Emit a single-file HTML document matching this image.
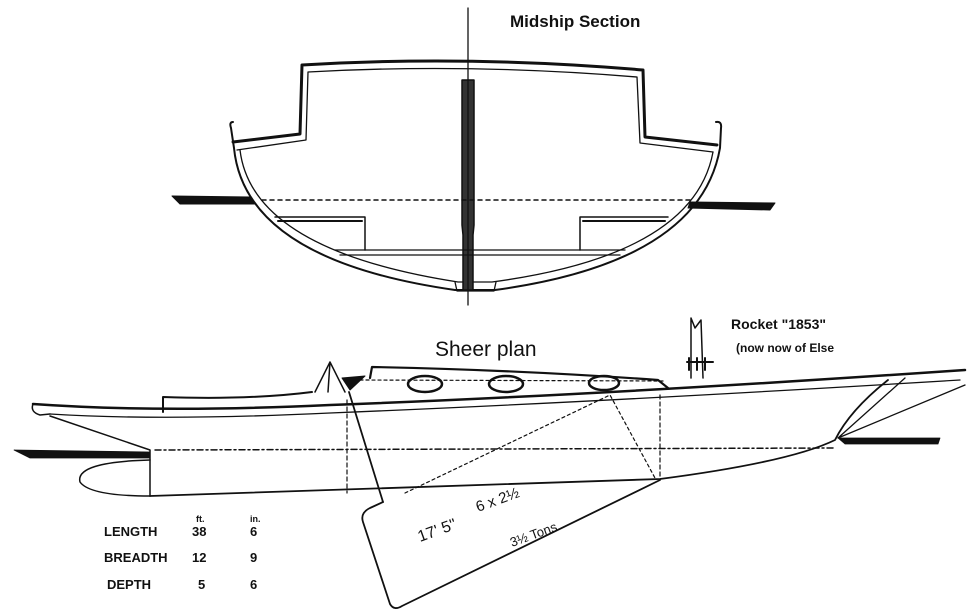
<!DOCTYPE html>
<html><head><meta charset="utf-8"><style>
html,body{margin:0;padding:0;background:#fff;}
svg{display:block;}
text{font-family:"Liberation Sans",sans-serif;fill:#111;}
</style></head><body>
<svg width="972" height="616" viewBox="0 0 972 616" xmlns="http://www.w3.org/2000/svg">
<g fill="none" stroke="#111" stroke-linecap="round" stroke-linejoin="round">
<!-- MIDSHIP SECTION -->
<!-- water bands -->
<path d="M172 196 L250 197 L255 204 L180 204 Z" fill="#111" stroke-width="1"/>
<path d="M690 202 L775 203 L770 210 L688 208 Z" fill="#111" stroke-width="1"/>
<!-- cabin outer -->
<path d="M233 142 L300 134 L302 65 Q468 55 643 70 L645 137 L717 145" stroke-width="3"/>
<!-- cabin inner -->
<path d="M237 150 L306 140 L308 72 Q468 63 637 77 L640 143 L713 152" stroke-width="1.3"/>
<!-- hull outer -->
<path d="M233 122 Q229 122 231 128 L234 148 Q245 260 455 290 L495 290 Q700 262 720 148 L721 128 Q722 121 716 122" stroke-width="2"/>
<!-- hull inner -->
<path d="M240 150 Q252 250 458 282 L492 282 Q694 255 713 152" stroke-width="1.3"/>
<!-- keel bulge -->
<path d="M455 282 L457 291 L494 291 L496 282" stroke-width="1.3"/>
<!-- keel post -->
<path d="M462 80 L474 80 L474 225 L473 235 L473 290 L463 290 L463 235 L462 225 Z" fill="#333" stroke-width="1.5"/>
<line x1="468" y1="8" x2="468" y2="305" stroke-width="1.3"/>
<!-- waterline dashed -->
<line x1="262" y1="200" x2="690" y2="200" stroke-width="1.5" stroke-dasharray="4 4"/>
<!-- floor blocks -->
<path d="M275 217 L365 217 L365 250" stroke-width="1.5"/>
<path d="M278 221 L362 221" stroke-width="2"/>
<path d="M580 250 L580 217 L668 217" stroke-width="1.5"/>
<path d="M583 221 L665 221" stroke-width="2"/>
<path d="M335 250 L625 250 M340 255 L620 255" stroke-width="1.3"/>
<text x="510" y="27" font-size="17" font-weight="bold" font-family="Liberation Serif" stroke="none">Midship Section</text>

<!-- SHEER PLAN -->
<path d="M33 404 Q160 413 330 405 Q600 395 965 370" stroke-width="2.5"/>
<path d="M50 414 Q160 421 330 413 Q600 402 960 380" stroke-width="1.3"/>
<path d="M33 404 Q30 412 40 415 L50 414" stroke-width="1.5"/>
<path d="M50 416 L150 450 L150 496" stroke-width="1.5"/>
<path d="M150 460 Q75 462 80 482 Q90 496 150 496" stroke-width="1.5"/>
<path d="M14 450 L150 452 L150 458 L30 458 Z" fill="#111" stroke-width="0.8"/>
<path d="M150 496 L660 479 Q790 462 835 440 Q850 410 888 380" stroke-width="1.8"/>
<path d="M905 378 L838 438 L965 385" stroke-width="1.3"/>
<path d="M838 438 L940 438 L938 444 L845 444 Z" fill="#111" stroke-width="0.8"/>
<line x1="155" y1="450" x2="835" y2="448" stroke-width="1.5" stroke-dasharray="6 3 2 3"/>
<path d="M163 412 L163 397 Q250 400 312 392" stroke-width="2"/>
<path d="M315 392 L330 362 L345 392 M328 392 L330 362" stroke-width="1.5"/>
<path d="M342 378 L365 376 L350 390 Z" fill="#111" stroke-width="1"/>
<path d="M370 378 L372 367 Q520 370 658 380 L668 388" stroke-width="2.2"/>
<line x1="360" y1="380" x2="665" y2="381" stroke-width="1.2" stroke-dasharray="3 3"/>
<ellipse cx="425" cy="384" rx="17" ry="8" stroke-width="2.5"/>
<ellipse cx="506" cy="384" rx="17" ry="8" stroke-width="2.5"/>
<ellipse cx="604" cy="383" rx="15" ry="7" stroke-width="2.5"/>
<path d="M691 378 L691 318 L695 328 L701 320 L703 378" stroke-width="1.5"/>
<path d="M687 362 L713 362 M689 358 L689 370 M697 358 L697 370 M705 358 L705 370" stroke-width="2"/>
<line x1="349" y1="392" x2="383" y2="502" stroke-width="1.8"/>
<line x1="347" y1="400" x2="347" y2="493" stroke-width="1.2" stroke-dasharray="4 3"/>
<line x1="660" y1="395" x2="660" y2="478" stroke-width="1.2" stroke-dasharray="4 3"/>
<path d="M405 493 L610 395 L655 478" stroke-width="1.2" stroke-dasharray="3 3"/>
<path d="M383 502 L370 508 Q360 513 363 522 L390 604 Q394 611 402 606 L660 480" stroke-width="1.8"/>
<text x="435" y="356" font-size="21" stroke="none">Sheer plan</text>
<text x="731" y="329" font-size="14" font-weight="bold" stroke="none">Rocket "1853"</text>
<text x="736" y="352" font-size="12" font-weight="bold" stroke="none">(now now of Else</text>
<text transform="translate(420 542) rotate(-20)" font-size="16" stroke="none">17' 5"</text>
<text transform="translate(478 512) rotate(-20)" font-size="15" stroke="none">6 x 2½</text>
<text transform="translate(512 547) rotate(-20)" font-size="13" stroke="none">3½ Tons</text>
<g font-size="13" stroke="none" font-weight="bold">
<text x="104" y="536">LENGTH</text><text x="192" y="536">38</text><text x="250" y="536">6</text>
<text x="104" y="562">BREADTH</text><text x="192" y="562">12</text><text x="250" y="562">9</text>
<text x="107" y="589">DEPTH</text><text x="198" y="589">5</text><text x="250" y="589">6</text>
<text x="196" y="522" font-size="9">ft.</text><text x="250" y="522" font-size="9">in.</text>
</g>
</g>
</svg>
</body></html>
